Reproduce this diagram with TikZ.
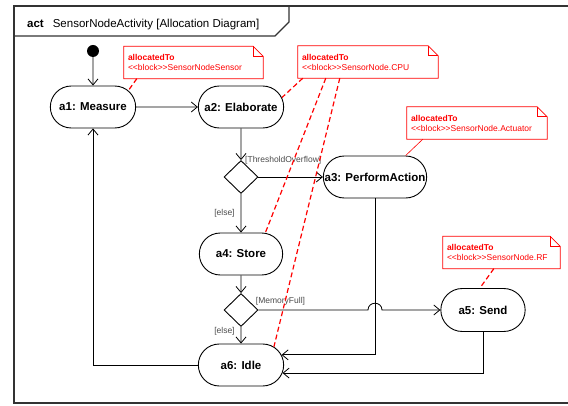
\documentclass[tikz,border=0pt]{standalone}
\usepackage{fontspec}
\newfontfamily\umlfont{Liberation Sans}
\usepackage{tikz}
\usetikzlibrary{arrows.meta, positioning, shapes.geometric, shapes.misc, calc}
\definecolor{allocred}{RGB}{255,0,0}
\definecolor{guardgray}{RGB}{75,75,75}

% red note outline with folded corner
\newcommand{\noteframe}[1]{%
  \draw[notebox] (#1.south west) -- (#1.south east) -- ([yshift=-10pt]#1.north east)
    -- ([xshift=-10pt]#1.north east) -- (#1.north west) -- cycle;
  \draw[notebox] ([xshift=-10pt]#1.north east) |- ([yshift=-10pt]#1.north east);
}

\begin{document}
\begin{tikzpicture}[
    x=1pt, y=1pt,
    action/.style={draw,rounded rectangle,line width=0.9pt,minimum width=92pt,
      minimum height=42pt,font=\umlfont\fontsize{11.5}{13}\selectfont\bfseries},
    decision/.style={draw,diamond,line width=0.9pt,minimum width=34pt,
      minimum height=33pt,inner sep=0pt},
    initial/.style={circle,fill=black,minimum size=12pt,inner sep=0pt},
    note/.style={fill=white,text=allocred,inner xsep=4pt,inner ysep=2pt,align=left,
      minimum height=32pt,font=\umlfont\fontsize{8.5}{10}\selectfont},
    notebox/.style={draw=allocred,line width=0.8pt},
    guard/.style={text=guardgray,inner sep=1pt,font=\umlfont\fontsize{8.5}{10}\selectfont},
    flow/.style={-{Straight Barb[length=6pt,width=10pt]},line width=0.8pt},
    alloc/.style={allocred,line width=1.2pt,dash pattern=on 5pt off 3pt},
    frame/.style={line width=1.3pt,black!80}
  ]
  \useasboundingbox (0,0) rectangle (568,-406);

  % Frame and header
  \draw[frame] (568,-6) -- (14,-6) -- (14,-403) -- (568,-403);
  \draw[frame] (14,-36) -- (275,-36) -- (289,-22) -- (289,-6);
  \node[anchor=west,inner sep=1pt,font=\umlfont\fontsize{11.5}{13}\selectfont] (title) at (26,-25)
    {\textbf{act}\hspace{9pt}SensorNodeActivity [Allocation Diagram]};

  % Activity nodes
  \node[initial] (init) at (93,-51) {};
  \node[action] (a1) at (93,-107) {a1: Measure};
  \node[action] (a2) at (241,-107) {a2: Elaborate};
  \node[decision] (d1) at (241,-177) {};
  \node[action,minimum width=110pt] (a3) at (375,-177) {a3: PerformAction};
  \node[action,minimum width=90pt] (a4) at (241,-254) {a4: Store};
  \node[decision] (d2) at (241,-310) {};
  \node[action,minimum width=91pt,minimum height=43pt] (a5) at (483,-310) {a5: Send};
  \node[action] (a6) at (241,-365) {a6: Idle};

  % Allocation notes
  \node[note,text width=131pt] (n1) at (193.5,-62.5)
    {\textbf{allocatedTo}\\<<block>>SensorNodeSensor};
  \node[note,text width=132pt] (n2) at (368,-62)
    {\textbf{allocatedTo}\\<<block>>SensorNode.CPU};
  \node[note,text width=132pt] (n3) at (477,-123)
    {\textbf{allocatedTo}\\<<block>>SensorNode.Actuator};
  \node[note,text width=109pt] (n4) at (501.5,-252.5)
    {\textbf{allocatedTo}\\<<block>>SensorNode.RF};
  \noteframe{n1}
  \noteframe{n2}
  \noteframe{n3}
  \noteframe{n4}

  % Control flow
  \draw[flow] (init) -- (a1);
  \draw[flow] (a1) -- (a2);
  \draw[flow] (a2) -- (d1);
  \draw[flow] (d1) -- (a3);
  \node[guard,right=3pt of d1.north] (g1) {[ThresholdOverflow]};
  \draw[flow] (d1) -- node[guard,left=5pt] (g2) {[else]} (a4);
  \draw[flow] (a4) -- (d2);
  \draw[flow] (d2) -- ($(d2 -| a3)+(-7,0)$)
    .. controls +(0,9) and +(0,9) .. ($(d2 -| a3)+(7,0)$) -- (a5);
  \node[guard,right=5pt of d2.north east] (g3) {[MemoryFull]};
  \draw[flow] (d2) -- node[guard,left=5pt,pos=0.25] (g4) {[else]} (a6);
  \draw[flow] (a3.south) |- (a6.14);
  \draw[flow] (a5.south) |- (a6.-11);
  \draw[flow] (a6.west) -| (a1.south);

  % Allocation links
  \draw[alloc] ([xshift=13pt]n1.south west) -- (a1.25);
  \draw[alloc] ([xshift=5pt]n2.south west) -- (a2.13);
  \draw[alloc] ([xshift=28pt]n2.south west) -- (a4.41);
  \draw[alloc] ([xshift=42pt]n2.south west) -- (a6.29);
  \draw[allocred,line width=0.6pt] ([xshift=16pt]n3.south west) -- (a3.35);
  \draw[alloc] ([xshift=51pt]n4.south west) -- (a5.98);
\end{tikzpicture}
\end{document}
